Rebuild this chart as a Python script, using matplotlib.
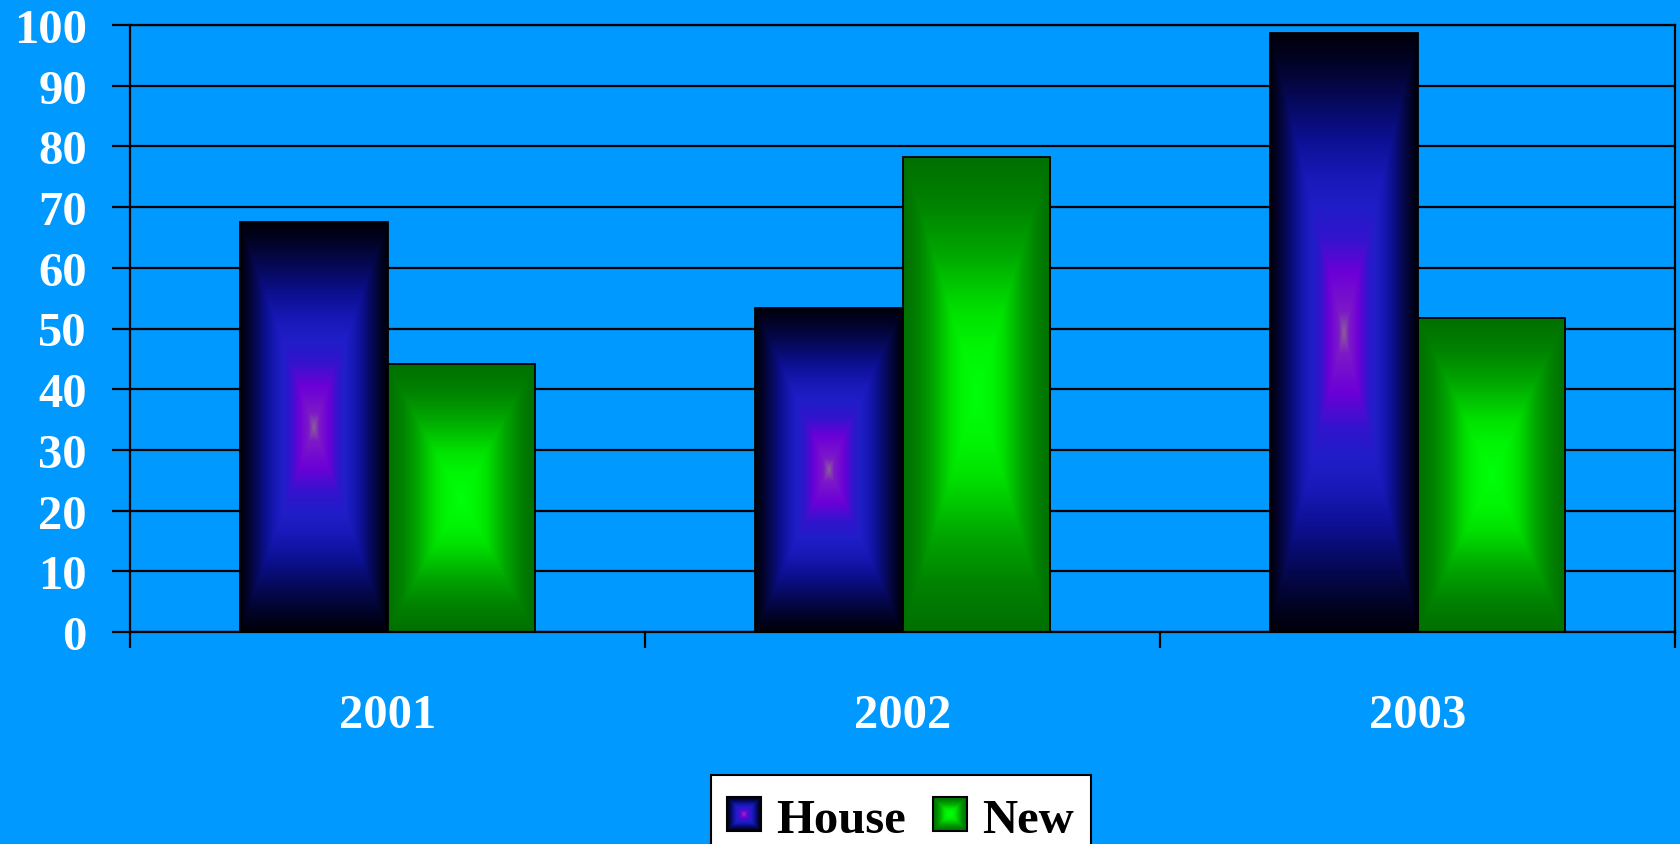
import numpy as np
import matplotlib.pyplot as plt
from matplotlib.patches import Rectangle

# chart data
years = ['2001', '2002', '2003']
house = [67.5, 53.4, 98.6]
new = [44.1, 78.3, 51.7]
series_names = ['House', 'New']

BG = '#0099ff'
FONT = 'Liberation Serif'

# colour stops for the "from centre" fills: (t, (r, g, b)), t=0 centre, t=1 edge
house_stops = [(0.0, (140, 95, 150)), (0.07, (125, 25, 200)), (0.2, (108, 0, 215)),
               (0.32, (50, 20, 205)), (0.42, (32, 30, 200)), (0.52, (25, 25, 185)),
               (0.65, (12, 16, 145)), (0.8, (5, 8, 80)), (0.93, (1, 2, 30)),
               (1.0, (0, 0, 10))]
new_stops = [(0.0, (0, 255, 10)), (0.2, (0, 245, 5)), (0.35, (0, 225, 0)),
             (0.6, (0, 165, 0)), (0.8, (0, 130, 0)), (0.92, (0, 118, 0)),
             (1.0, (0, 112, 0))]


def rect_gradient(stops, n=300):
    u = np.linspace(-1, 1, n)
    U, V = np.meshgrid(u, u)
    t = np.maximum(np.abs(U), np.abs(V))
    pos = [s[0] for s in stops]
    cols = np.array([s[1] for s in stops]) / 255.0
    return np.stack([np.interp(t, pos, cols[:, k]) for k in range(3)], axis=-1)


grads = [rect_gradient(house_stops), rect_gradient(new_stops)]

W, H = 1680, 845
fig = plt.figure(figsize=(W / 100, H / 100), dpi=100, facecolor=BG)

# plot area in pixels: left 130, right 1675, top 26, bottom 633
ax = fig.add_axes([130 / W, (H - 633) / H, 1545 / W, (633 - 26) / H])
ax.set_facecolor(BG)

x = np.arange(len(years)) + 0.5
width = 1 / 3.5
for i, (vals, grad) in enumerate(zip([house, new], grads)):
    offs = x - width / 2 + i * width
    bars = ax.bar(offs, vals, width, facecolor='none', edgecolor='black',
                  linewidth=1.3, zorder=3)
    for b in bars:
        x0, w, h = b.get_x(), b.get_width(), b.get_height()
        im = ax.imshow(grad, extent=[x0, x0 + w, 0, h], aspect='auto',
                       interpolation='bilinear', zorder=2.5)
        im.set_clip_path(b)

ax.set_xlim(0, 3)
ax.set_ylim(0, 100)

ax.set_yticks(np.arange(0, 101, 10))
ax.yaxis.grid(True, color='black', linewidth=1.6)
ax.set_axisbelow(True)
ax.tick_params(axis='y', length=13, width=1.6, pad=18, colors='black')
for lab in ax.get_yticklabels():
    lab.set_color('white')
    lab.set_fontfamily(FONT)
    lab.set_fontweight('bold')
    lab.set_fontsize(35)

ax.set_xticks([0, 1, 2, 3])
ax.set_xticklabels([])
ax.tick_params(axis='x', which='major', length=11.5, width=1.6)
ax.set_xticks(x, minor=True)
ax.set_xticklabels(years, minor=True, color='white', fontfamily=FONT,
                   fontweight='bold', fontsize=35)
ax.tick_params(axis='x', which='minor', length=0, pad=44)

for sp in ax.spines.values():
    sp.set_color('black')
    sp.set_linewidth(1.6)

# legend drawn in figure pixel space
lg = fig.add_axes([0, 0, 1, 1], facecolor='none')
lg.set_xlim(0, W)
lg.set_ylim(H, 0)
lg.axis('off')
lg.add_patch(Rectangle((711, 776), 380, 90, facecolor='white', edgecolor='black',
                       linewidth=1.5, zorder=1))
for (sx, tx), name, grad in zip([(727, 776), (933, 982)], series_names, grads):
    lg.imshow(grad, extent=[sx, sx + 34, 832, 798], aspect='auto',
              interpolation='bilinear', zorder=2)
    lg.add_patch(Rectangle((sx, 798), 34, 34, facecolor='none', edgecolor='black',
                           linewidth=1.5, zorder=3))
    lg.text(tx, 833, name, fontfamily=FONT, fontweight='bold', fontsize=35,
            color='black', va='baseline', ha='left', zorder=3)
lg.set_xlim(0, W)
lg.set_ylim(H, 0)

fig.savefig('out.png', dpi=100, facecolor=BG)
